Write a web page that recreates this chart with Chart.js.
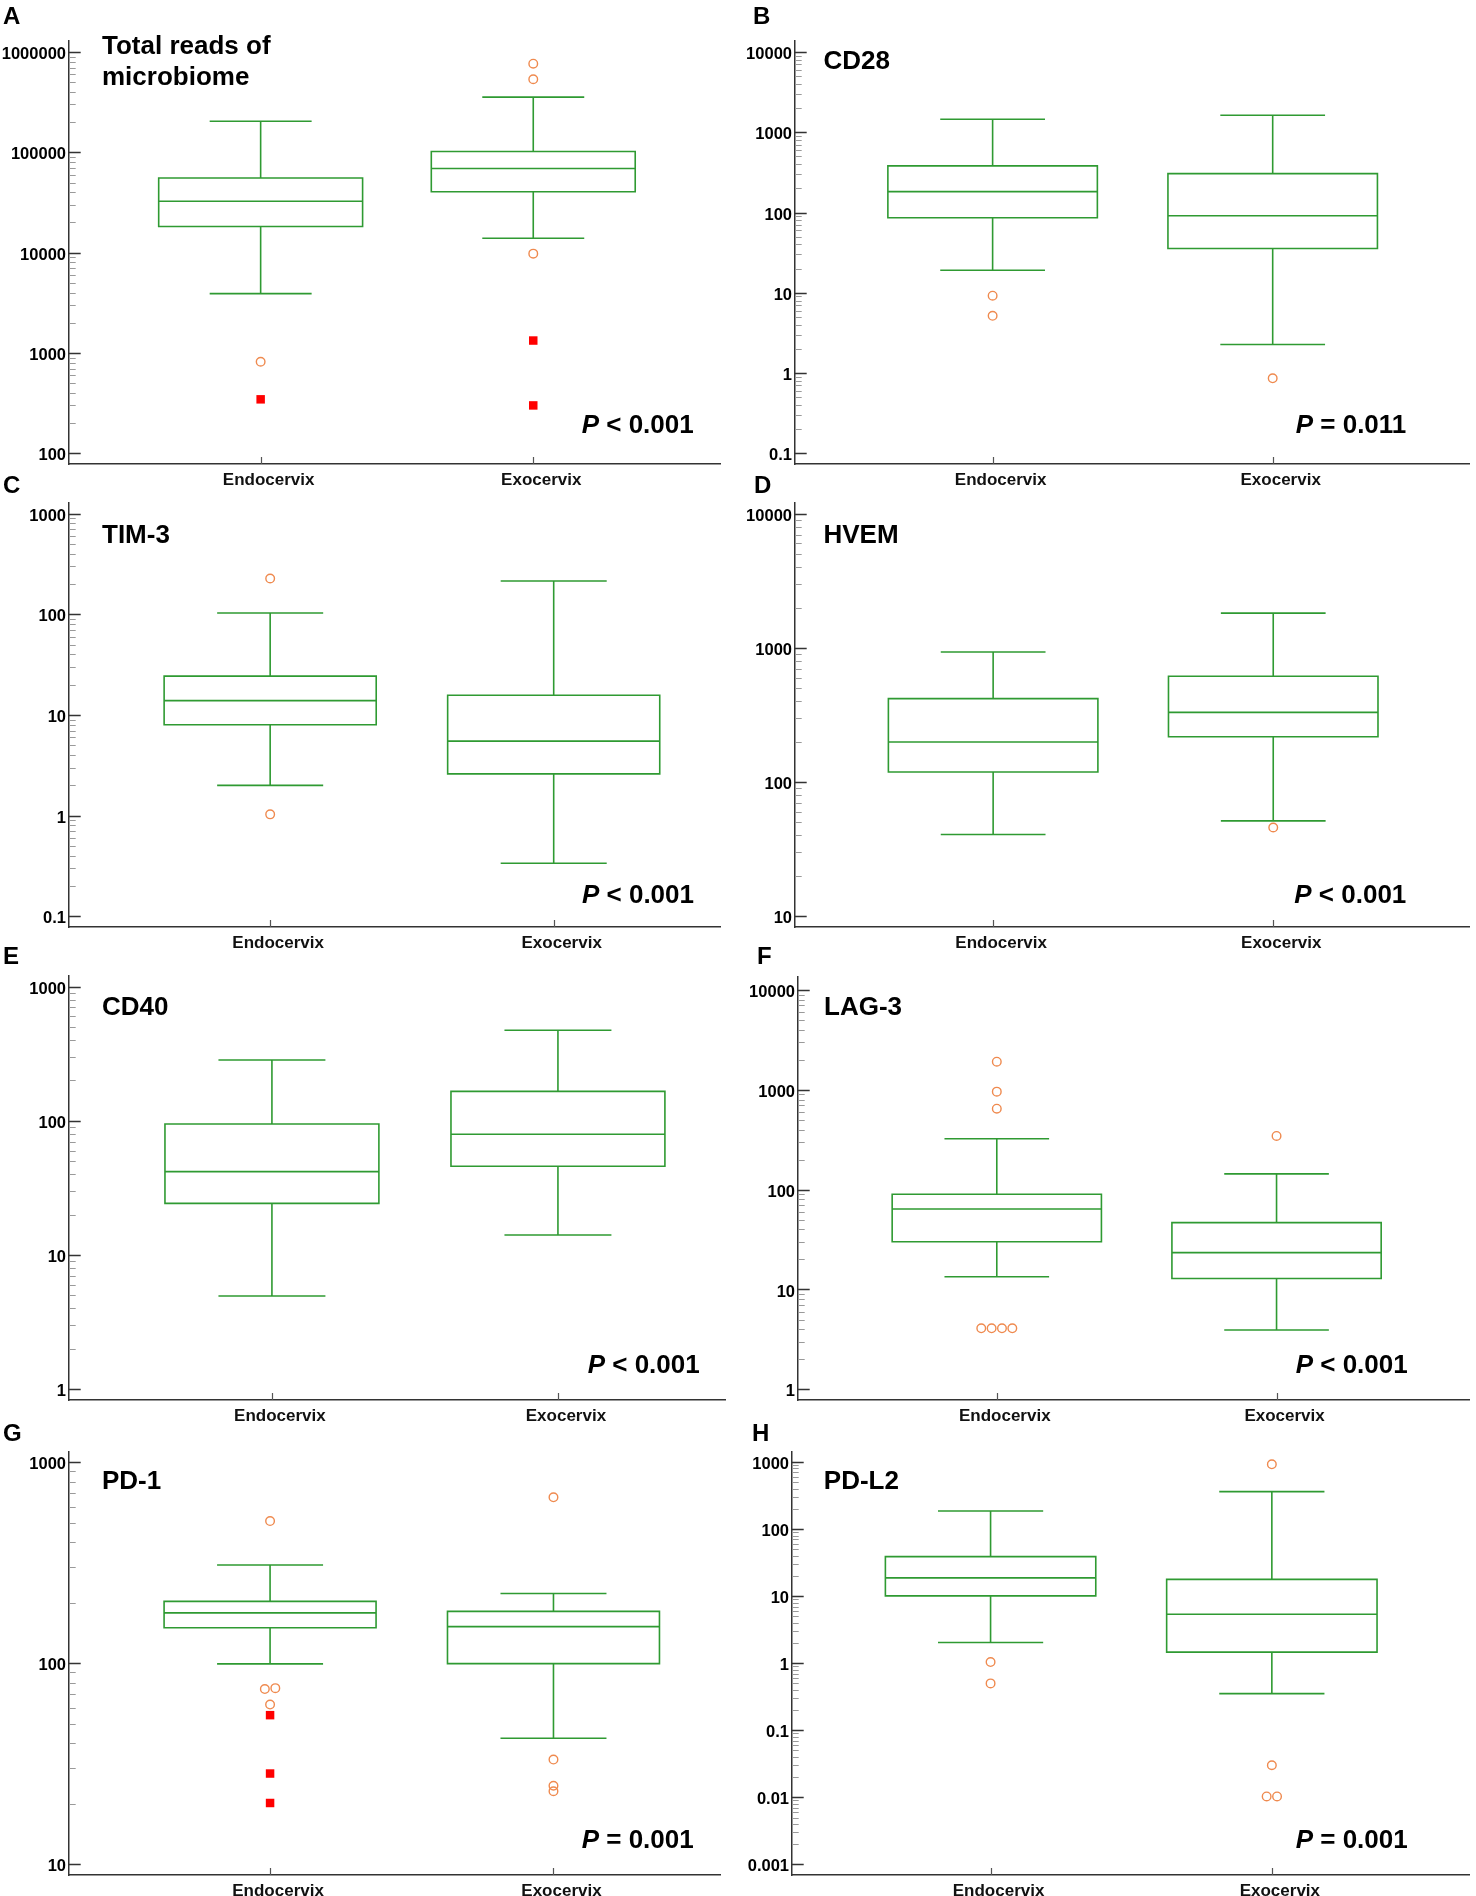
<!DOCTYPE html>
<html>
<head>
<meta charset="utf-8">
<script src="https://cdn.jsdelivr.net/npm/chart.js@4.4.1/dist/chart.umd.min.js"></script>
<style>
  html, body { margin:0; padding:0; background:#fff; }
  body { width:1476px; height:1896px; overflow:hidden; position:relative; font-family:"Liberation Sans", Arial, sans-serif; }
  canvas { position:absolute; }
  .letter { position:absolute; font-weight:bold; font-size:24px; line-height:24px; color:#000; }
</style>
</head>
<body>
<script>
// ---------------- DATA ----------------
const categories = ['Endocervix', 'Exocervix'];
const panelLetters = ['A', 'B', 'C', 'D', 'E', 'F', 'G', 'H'];
const markerNames = [['Total reads of', 'microbiome'], ['CD28'], ['TIM-3'], ['HVEM'], ['CD40'], ['LAG-3'], ['PD-1'], ['PD-L2']];
const pTexts = ['< 0.001', '= 0.011', '< 0.001', '< 0.001', '< 0.001', '< 0.001', '= 0.001', '= 0.001'];

// box stats: [lower whisker, Q1, median, Q3, upper whisker]
// outliers: [group index, value]; far outliers (red squares) likewise
const readsEndo = [3900, 18200, 32500, 55500, 204000];
const readsExo  = [13900, 40500, 69000, 102000, 355000];
const readsOut  = [[0, 817], [1, 765000], [1, 535000], [1, 9770]];
const readsFar  = [[0, 345], [1, 1330], [1, 300]];
const readsTicks = [100, 1000, 10000, 100000, 1000000];

const cd28Endo = [19.1, 86, 182, 381, 1450];
const cd28Exo  = [2.27, 35.7, 91, 305, 1630];
const cd28Out  = [[0, 9.2], [0, 5.17], [1, 0.86]];
const cd28Far  = [];
const cd28Ticks = [0.1, 1, 10, 100, 1000, 10000];

const tim3Endo = [2.0, 8.0, 13.9, 24.3, 103];
const tim3Exo  = [0.336, 2.6, 5.5, 15.7, 214];
const tim3Out  = [[0, 227], [0, 1.03]];
const tim3Far  = [];
const tim3Ticks = [0.1, 1, 10, 100, 1000];

const hvemEndo = [40.7, 119, 199, 419, 933];
const hvemExo  = [51.4, 218, 331, 615, 1815];
const hvemOut  = [[1, 45.9]];
const hvemFar  = [];
const hvemTicks = [10, 100, 1000, 10000];

const cd40Endo = [4.96, 24.3, 41.9, 94.8, 284];
const cd40Exo  = [14.1, 45.9, 79.4, 166, 473];
const cd40Out  = [];
const cd40Far  = [];
const cd40Ticks = [1, 10, 100, 1000];

const lag3Endo = [13.4, 30.1, 64, 89.8, 324];
const lag3Exo  = [3.93, 12.9, 23.4, 46.7, 144];
const lag3Out  = [[0, 1915], [0, 959], [0, 647], [0, 4.08], [0, 4.08], [0, 4.08], [0, 4.08], [1, 345]];
const lag3Far  = [];
const lag3Ticks = [1, 10, 100, 1000, 10000];

const pd1Endo = [99.3, 150, 178, 203, 308];
const pd1Exo  = [42.4, 99.6, 152, 181, 222];
const pd1Out  = [[0, 509], [0, 74.4], [0, 75.2], [0, 62.3], [1, 668], [1, 33.2], [1, 24.6], [1, 23.1]];
const pd1Far  = [[0, 55.2], [0, 28.3], [0, 20.2]];
const pd1Ticks = [10, 100, 1000];

const pdl2Endo = [2.03, 10.1, 18.7, 38.8, 186];
const pdl2Exo  = [0.352, 1.46, 5.37, 17.8, 361];
const pdl2Out  = [[0, 1.04], [0, 0.50], [1, 923], [1, 0.0301], [1, 0.0103], [1, 0.0103]];
const pdl2Far  = [];
const pdl2Ticks = [0.001, 0.01, 0.1, 1, 10, 100, 1000];

// ---------------- LAYOUT / STYLE ----------------
const GREEN = '#2f9a32';
const ORANGE = '#ef8a4f';
const RED = '#ff0000';
const FONT = '"Liberation Sans", Arial, Helvetica, sans-serif';
const BOX_HALF = 0.374;
const CAP_HALF = 0.187;
const DODGE = 0.037;
const Y_AXIS_W = 75, PAD_TOP = 20, X_AXIS_H = 40;

const layouts = [
  {left:69,  top:41,   right:726,  bottom:464,  xMin:-0.703,  xMax:1.685,  yMin:78.2,     yMax:1.287e6, tdx:33,   tdy:[12.6, 44.3], pr:26.3, pu:30.7},
  {left:795, top:41,   right:1475, bottom:464,  xMin:-0.7056, xMax:1.702,  yMin:0.0736,   yMax:13709,   tdx:28.5, tdy:[27.6], pr:63,   pu:30.7},
  {left:69,  top:503,  right:726,  bottom:927,  xMin:-0.7095, xMax:1.5876, yMin:0.0783,   yMax:1276,    tdx:33,   tdy:[40],   pr:26.3, pu:24},
  {left:795, top:503,  right:1475, bottom:927,  xMin:-0.7074, xMax:1.700,  yMin:8.32,     yMax:12020,   tdx:28.5, tdy:[40],   pr:63,   pu:24},
  {left:69,  top:976,  right:726,  bottom:1400, xMin:-0.7095, xMax:1.5876, yMin:0.832,    yMax:1201,    tdx:33,   tdy:[39],   pr:26.3, pu:27.3},
  {left:798, top:977,  right:1475, bottom:1400, xMin:-0.7106, xMax:1.689,  yMin:0.781,    yMax:13500,   tdx:26,   tdy:[38],   pr:61.6, pu:27.3},
  {left:69,  top:1452, right:726,  bottom:1875, xMin:-0.7095, xMax:1.5876, yMin:8.86,     yMax:1122,    tdx:33,   tdy:[37.3], pr:26.3, pu:26.6},
  {left:792, top:1452, right:1475, bottom:1875, xMin:-0.706,  xMax:1.702,  yMin:0.000695, yMax:1409,    tdx:31.8, tdy:[37.3], pr:61.6, pu:26.6}
];
const letterPos = [[3, 24], [753, 24], [3, 493], [754, 493], [3, 964], [757, 964], [3, 1441], [752, 1441]];

const panelData = [
  {endo: readsEndo, exo: readsExo, out: readsOut, far: readsFar, ticks: readsTicks},
  {endo: cd28Endo,  exo: cd28Exo,  out: cd28Out,  far: cd28Far,  ticks: cd28Ticks},
  {endo: tim3Endo,  exo: tim3Exo,  out: tim3Out,  far: tim3Far,  ticks: tim3Ticks},
  {endo: hvemEndo,  exo: hvemExo,  out: hvemOut,  far: hvemFar,  ticks: hvemTicks},
  {endo: cd40Endo,  exo: cd40Exo,  out: cd40Out,  far: cd40Far,  ticks: cd40Ticks},
  {endo: lag3Endo,  exo: lag3Exo,  out: lag3Out,  far: lag3Far,  ticks: lag3Ticks},
  {endo: pd1Endo,   exo: pd1Exo,   out: pd1Out,   far: pd1Far,   ticks: pd1Ticks},
  {endo: pdl2Endo,  exo: pdl2Exo,  out: pdl2Out,  far: pdl2Far,  ticks: pdl2Ticks}
];

// spread coincident outliers horizontally (side-by-side like the original)
function toPoints(list) {
  const clusters = [];
  list.forEach(([g, v]) => {
    let c = clusters.find(c => c.g === g && Math.abs(Math.log(c.v / v)) < 0.03);
    if (!c) { c = {g, v, items: []}; clusters.push(c); }
    c.items.push(v);
  });
  const pts = [];
  clusters.forEach(c => {
    const n = c.items.length;
    c.items.forEach((v, i) => pts.push({x: c.g + (i - (n - 1) / 2) * DODGE, y: v}));
  });
  return pts;
}

function fmtTick(v) {
  if (v >= 1) return String(Math.round(v));
  return String(+v.toPrecision(1));
}

const boxPlugin = {
  id: 'boxes',
  beforeDatasetsDraw(chart, args, opts) {
    const {ctx, scales: {x, y}} = chart;
    const d = opts.data;
    ctx.save();
    ctx.strokeStyle = GREEN;
    ctx.lineWidth = 1.6;
    [d.endo, d.exo].forEach((s, g) => {
      const cx = x.getPixelForValue(g);
      const hw = x.getPixelForValue(g + BOX_HALF) - cx;
      const cw = x.getPixelForValue(g + CAP_HALF) - cx;
      const [lo, q1, md, q3, hi] = s.map(v => y.getPixelForValue(v));
      ctx.beginPath();
      ctx.rect(cx - hw, q3, 2 * hw, q1 - q3);
      ctx.moveTo(cx - hw, md); ctx.lineTo(cx + hw, md);
      ctx.moveTo(cx, q3); ctx.lineTo(cx, hi);
      ctx.moveTo(cx - cw, hi); ctx.lineTo(cx + cw, hi);
      ctx.moveTo(cx, q1); ctx.lineTo(cx, lo);
      ctx.moveTo(cx - cw, lo); ctx.lineTo(cx + cw, lo);
      ctx.stroke();
    });
    ctx.restore();
  },
  afterDraw(chart, args, opts) {
    const {ctx, chartArea: a, scales: {x, y}} = chart;
    const d = opts.data, L = opts.layout;
    ctx.save();
    // y ticks pointing inward
    const tk = d.ticks;
    ctx.lineWidth = 1;
    ctx.strokeStyle = '#9a9a9a';
    ctx.beginPath();
    for (let i = 0; i < tk.length - 1; i++) {
      for (let m = 2; m <= 9; m++) {
        const py = Math.round(y.getPixelForValue(tk[i] * m)) + 0.5;
        ctx.moveTo(a.left, py); ctx.lineTo(a.left + 6.7, py);
      }
    }
    ctx.stroke();
    ctx.lineWidth = 1.4;
    ctx.strokeStyle = '#333';
    ctx.beginPath();
    tk.forEach(v => {
      const py = Math.round(y.getPixelForValue(v)) + 0.5;
      ctx.moveTo(a.left, py); ctx.lineTo(a.left + 11.7, py);
    });
    ctx.stroke();
    // category ticks pointing up from the x axis
    ctx.lineWidth = 1.2;
    ctx.strokeStyle = '#555';
    ctx.beginPath();
    categories.forEach((c, g) => {
      const px = Math.round(x.getPixelForValue(g)) + 0.5;
      ctx.moveTo(px, a.bottom); ctx.lineTo(px, a.bottom - 7);
    });
    ctx.stroke();
    // marker title
    ctx.fillStyle = '#000';
    ctx.textBaseline = 'alphabetic';
    ctx.textAlign = 'left';
    ctx.font = 'bold 26px ' + FONT;
    opts.title.forEach((t, i) => ctx.fillText(t, a.left + L.tdx, a.top + L.tdy[i]));
    // P value
    const rest = ' ' + opts.p;
    const rx = a.right - L.pr, by = a.bottom - L.pu;
    ctx.textAlign = 'right';
    ctx.fillText(rest, rx, by);
    const w = ctx.measureText(rest).width;
    ctx.font = 'italic bold 26px ' + FONT;
    ctx.fillText('P', rx - w, by);
    ctx.restore();
  }
};

Chart.defaults.font.family = FONT;

layouts.forEach((L, i) => {
  const d = panelData[i];
  const cv = document.createElement('canvas');
  const W = L.right - L.left + Y_AXIS_W;
  const H = L.bottom - L.top + PAD_TOP + X_AXIS_H;
  cv.width = W; cv.height = H;
  cv.style.left = (L.left - Y_AXIS_W) + 'px';
  cv.style.top = (L.top - PAD_TOP) + 'px';
  cv.style.width = W + 'px'; cv.style.height = H + 'px';
  document.body.appendChild(cv);

  const lt = document.createElement('div');
  lt.className = 'letter';
  lt.textContent = panelLetters[i];
  lt.style.left = letterPos[i][0] + 'px';
  lt.style.top = (letterPos[i][1] - 20.5) + 'px';
  document.body.appendChild(lt);

  new Chart(cv, {
    type: 'scatter',
    data: {
      datasets: [
        {data: toPoints(d.out), pointStyle: 'circle', pointRadius: 4.3, pointHoverRadius: 4.3,
         borderColor: ORANGE, backgroundColor: 'rgba(0,0,0,0)', borderWidth: 1.4},
        {data: toPoints(d.far), pointStyle: 'rect', pointRadius: 6, pointHoverRadius: 6,
         borderColor: RED, backgroundColor: RED, borderWidth: 0}
      ]
    },
    options: {
      responsive: false,
      animation: false,
      devicePixelRatio: 1,
      events: [],
      layout: {padding: {top: PAD_TOP, left: 0, right: 0, bottom: 0}},
      plugins: {
        legend: {display: false},
        tooltip: {enabled: false},
        boxes: {data: d, layout: L, title: markerNames[i], p: pTexts[i]}
      },
      scales: {
        x: {
          type: 'linear', min: L.xMin, max: L.xMax,
          afterBuildTicks: s => { s.ticks = categories.map((c, g) => ({value: g})); },
          afterFit: s => { s.height = X_AXIS_H; },
          grid: {display: false, drawTicks: false},
          border: {display: true, color: '#333', width: 1.5},
          ticks: {
            callback: v => categories[Math.round(v)],
            font: {size: 17, weight: 'bold'}, color: '#111',
            padding: 6, labelOffset: 8, maxRotation: 0, autoSkip: false
          }
        },
        y: {
          type: 'logarithmic', min: L.yMin, max: L.yMax,
          afterBuildTicks: s => { s.ticks = d.ticks.map(v => ({value: v})); },
          afterFit: s => { s.width = Y_AXIS_W; },
          grid: {display: false, drawTicks: false},
          border: {display: true, color: '#333', width: 1.5},
          ticks: {
            callback: v => fmtTick(v),
            font: {size: 16.5, weight: 'bold'}, color: '#000',
            padding: 3, labelOffset: 2.5, autoSkip: false
          }
        }
      }
    },
    plugins: [boxPlugin]
  });
});
</script>
</body>
</html>
